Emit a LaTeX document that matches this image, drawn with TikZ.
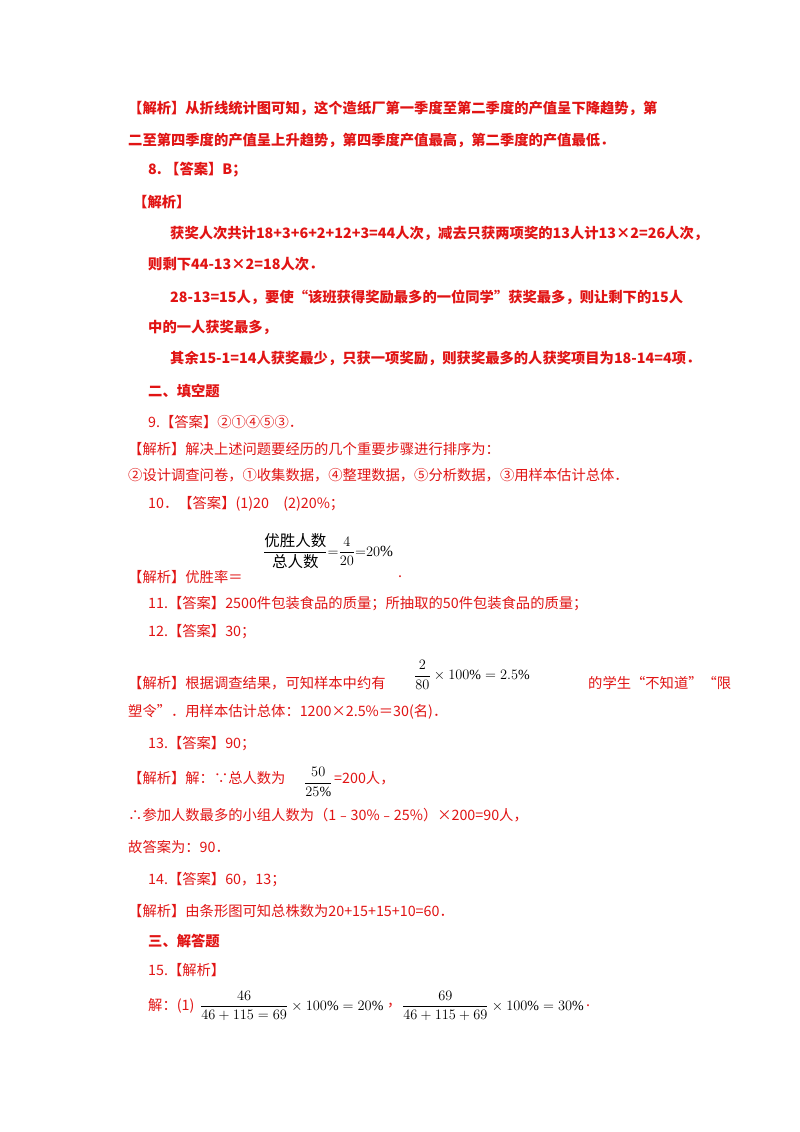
\documentclass[tikz,border=0pt]{standalone}
\usepackage{amsmath}
\usepackage{fontspec}
\setmainfont{Liberation Serif}
\newfontfamily\cjk{Noto Sans CJK SC}
\definecolor{ansred}{RGB}{225,20,20}
\begin{document}
\begin{tikzpicture}[x=1pt,y=-1pt,
  t/.style={anchor=west,inner sep=0pt,text=ansred,font=\cjk\fontsize{14.3}{15}\selectfont},
  b/.style={t,font=\cjk\bfseries\fontsize{14.3}{15}\selectfont},
  m/.style={anchor=west,inner sep=0pt,text=black,font=\fontsize{14}{16}\selectfont}]
\useasboundingbox[fill=white] (0,0) rectangle (800,1132);
\node[b] (l1) at (128,108) {【解析】从折线统计图可知，这个造纸厂第一季度至第二季度的产值呈下降趋势，第};
\node[b] (l2) at (128,140) {二至第四季度的产值呈上升趋势，第四季度产值最高，第二季度的产值最低．};
\node[b] (l3) at (148,170) {8.\ 【答案】B；};
\node[b] (l4) at (133,202) {【解析】};
\node[b] (l5) at (170,233) {获奖人次共计18+3+6+2+12+3=44人次，减去只获两项奖的13人计13×2=26人次，};
\node[b] (l6) at (148,264) {则剩下44-13×2=18人次．};
\node[b] (l7) at (170,297) {28-13=15人，要使“该班获得奖励最多的一位同学”获奖最多，则让剩下的15人};
\node[b] (l8) at (148,327) {中的一人获奖最多，};
\node[b] (l9) at (170,358) {其余15-1=14人获奖最少，只获一项奖励，则获奖最多的人获奖项目为18-14=4项．};
\node[b] (h2) at (148,391) {二、填空题};
\node[t] (a9) at (148,422) {9.【答案】②①④⑤③．};
\node[t] (j9) at (128,449) {【解析】解决上述问题要经历的几个重要步骤进行排序为：};
\node[t] (s9) at (128,475) {②设计调查问卷，①收集数据，④整理数据，⑤分析数据，③用样本估计总体．};
\node[t] (a10) at (148,504) {10．【答案】(1)20\quad (2)20\%；};
\node[m,font=\fontsize{15.5}{17}\selectfont] (f10) at (263,551) {$\dfrac{\mbox{\cjk 优胜人数}}{\mbox{\cjk 总人数}}{=}\dfrac{4}{20}{=}20\%$};
\node[t] (j10) at (128,577) {【解析】优胜率＝};
\node[t] (d10) at (398,577) {.};
\node[t] (a11) at (148,604) {11.【答案】2500件包装食品的质量；所抽取的50件包装食品的质量；};
\node[t] (a12) at (148,632) {12.【答案】30；};
\node[t] (j12) at (128,683) {【解析】根据调查结果，可知样本中约有};
\node[m] (f12) at (414,675) {$\dfrac{2}{80}\times100\%=2.5\%$};
\node[t] (j12b) at (588,683) {的学生“不知道”“限};
\node[t] (j12c) at (128,712) {塑令”．用样本估计总体：1200×2.5\%＝30(名)．};
\node[t] (a13) at (148,744) {13.【答案】90；};
\node[t] (j13) at (128,778) {【解析】解：∵总人数为};
\node[m] (f13) at (304,782) {$\dfrac{50}{25\%}$};
\node[t] (j13b) at (334,778) {=200人，};
\node[t] (s13) at (128,815) {∴参加人数最多的小组人数为（1﹣30\%﹣25\%）×200=90人，};
\node[t] (g13) at (128,847) {故答案为：90．};
\node[t] (a14) at (148,880) {14.【答案】60，13；};
\node[t] (j14) at (128,911) {【解析】由条形图可知总株数为20+15+15+10=60．};
\node[b] (h3) at (148,941) {三、解答题};
\node[t] (a15) at (148,970) {15.【解析】};
\node[t] (s15) at (148,1006) {解：(1)};
\node[m] (f15a) at (200,1006) {$\dfrac{46}{46+115=69}\times100\%=20\%$};
\node[t] (c15) at (387,1006) {，};
\node[m] (f15b) at (402,1006) {$\dfrac{69}{46+115+69}\times100\%=30\%$};
\node[t] (d15) at (586,1006) {.};
\end{tikzpicture}
\end{document}
